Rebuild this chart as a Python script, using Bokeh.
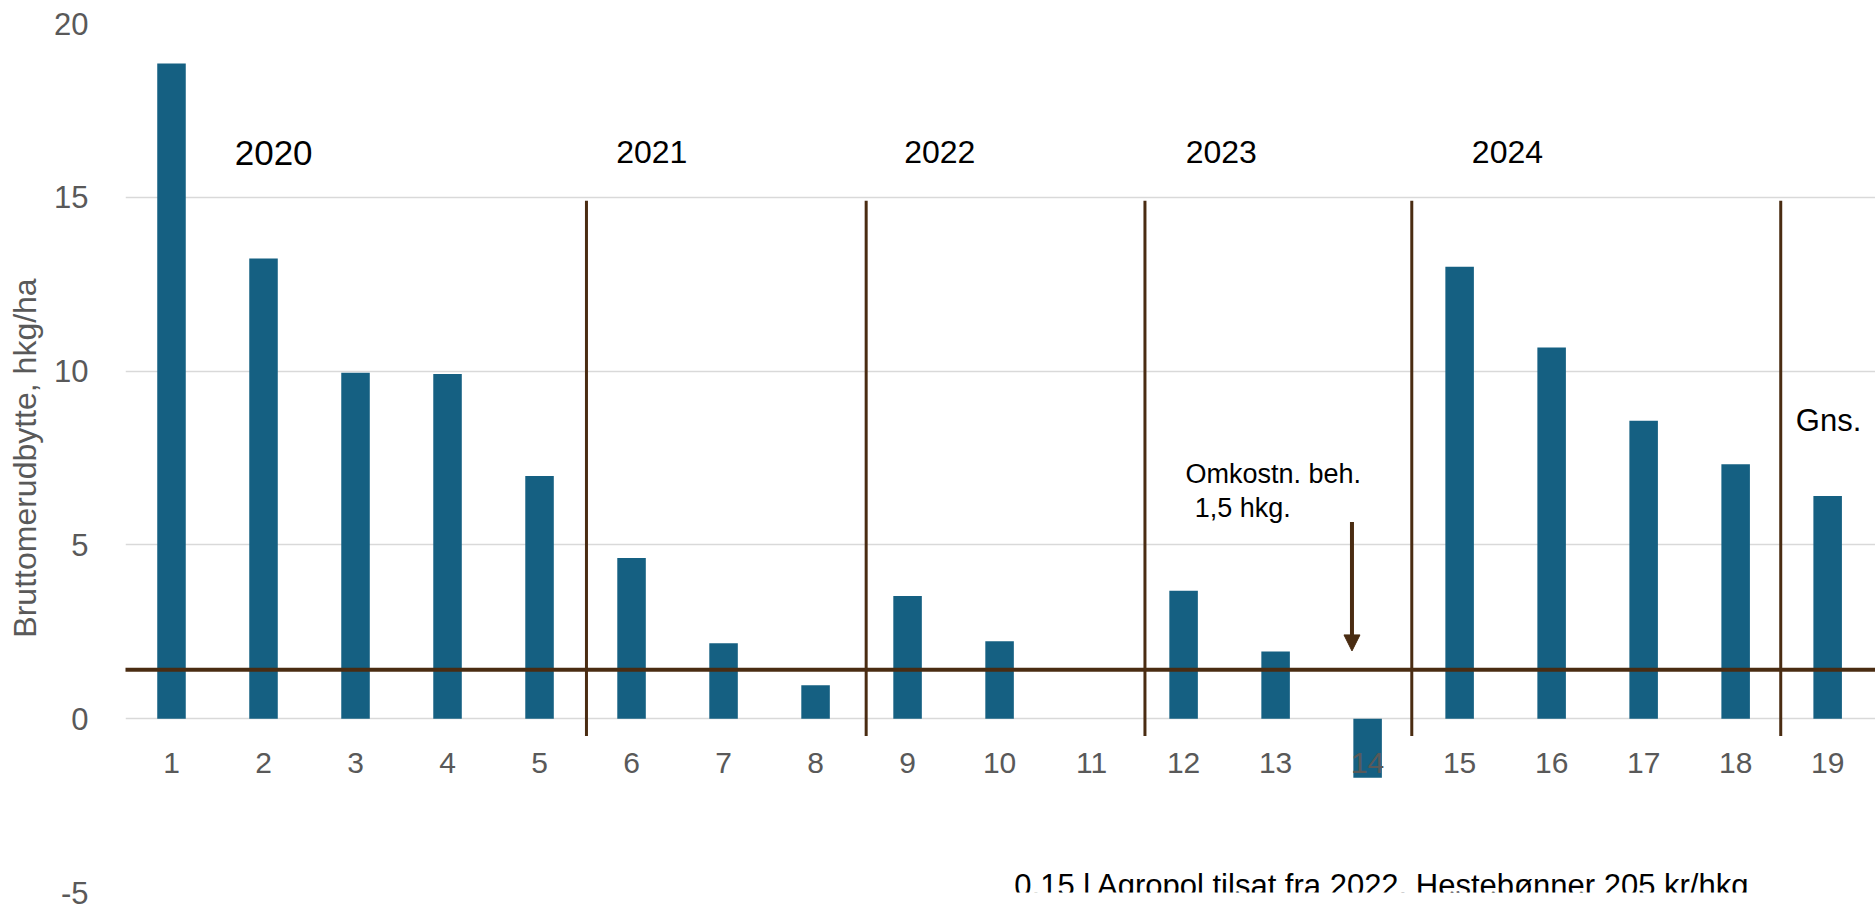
from bokeh.plotting import figure
from bokeh.models import Range1d, FixedTicker, Arrow, NormalHead, Label
from bokeh.core.properties import value
from bokeh.embed import file_html
from bokeh.resources import INLINE

# ---- data ----
categories = ["1", "2", "3", "4", "5", "6", "7", "8", "9", "10",
              "11", "12", "13", "14", "15", "16", "17", "18", "19"]
values = [18.85, 13.24, 9.95, 9.92, 6.98, 4.62, 2.17, 0.96, 3.53, 2.23,
          0.0, 3.68, 1.93, -1.70, 13.0, 10.68, 8.57, 7.32, 6.41]
year_labels = ["2020", "2021", "2022", "2023", "2024"]
year_x = [2.11, 6.22, 9.35, 12.41, 15.52]
separator_x = [5.51, 8.55, 11.58, 14.48, 18.49]
cost_level = 1.41
y_ticks = [-5, 0, 5, 10, 15, 20]
y_tick_labels = ["-5", "0", "5", "10", "15", "20"]

BROWN = "#4a2c12"
BAR = "#156082"
GRAY = "#595959"
FONT = "Liberation Sans"

x_pos = list(range(1, len(categories) + 1))

p = figure(width=1875, height=904, output_backend="svg", toolbar_location=None,
           x_range=Range1d(0.5, 19.52), y_range=Range1d(-5, 20),
           x_axis_location=None,
           min_border_left=125, min_border_right=0,
           min_border_top=23, min_border_bottom=12)
p.outline_line_color = None
p.background_fill_color = "white"
p.border_fill_color = "white"

# y axis
p.yaxis.ticker = FixedTicker(ticks=y_ticks)
p.yaxis.major_label_overrides = dict(zip(y_ticks, y_tick_labels))
p.yaxis.axis_line_color = None
p.yaxis.major_tick_line_color = None
p.yaxis.minor_tick_line_color = None
p.yaxis.major_label_standoff = 31
p.yaxis.major_label_text_font = FONT
p.yaxis.major_label_text_font_size = "31px"
p.yaxis.major_label_text_color = GRAY
p.yaxis.axis_label = "Bruttomerudbytte, hkg/ha"
p.yaxis.axis_label_text_font = FONT
p.yaxis.axis_label_text_font_style = "normal"
p.yaxis.axis_label_text_font_size = "32px"
p.yaxis.axis_label_text_color = GRAY
p.yaxis.axis_label_standoff = 8

for g in p.grid:
    if g.dimension == 0:
        g.visible = False
    else:
        g.ticker = FixedTicker(ticks=y_ticks)
        g.grid_line_color = "#d9d9d9"
        g.grid_line_width = 1.5

# bars
p.vbar(x=x_pos, top=values, bottom=0, width=0.31,
       fill_color=BAR, line_color=None)

# category labels
p.text(x=x_pos, y=[-1.28] * len(x_pos), text=categories,
       text_font=value(FONT), text_font_size=value("30px"),
       text_color=GRAY, text_align="center", text_baseline="middle")

# cost line
p.add_layout(Arrow(end=None, x_start=0.087, y_start=cost_level,
                   x_end=19.52, y_end=cost_level,
                   line_color=BROWN, line_width=4))

# year separators
p.segment(x0=separator_x, y0=[-0.5] * len(separator_x),
          x1=separator_x, y1=[14.9] * len(separator_x),
          line_color=BROWN, line_width=3)

# year labels
p.text(x=year_x[:1], y=[16.28], text=year_labels[:1],
       text_font=value(FONT), text_font_size=value("35px"),
       text_color="black", text_align="center", text_baseline="middle")
p.text(x=year_x[1:], y=[16.3] * 4, text=year_labels[1:],
       text_font=value(FONT), text_font_size=value("32px"),
       text_color="black", text_align="center", text_baseline="middle")

# Gns.
p.text(x=[19.01], y=[8.59], text=["Gns."],
       text_font=value(FONT), text_font_size=value("31px"),
       text_color="black", text_align="center", text_baseline="middle")

# annotation
p.text(x=[12.02, 12.12], y=[7.03, 6.05], text=["Omkostn. beh.", "1,5 hkg."],
       text_font=value(FONT), text_font_size=value("27px"),
       text_color="black", text_align="left", text_baseline="middle")
p.add_layout(Arrow(end=NormalHead(size=16, fill_color=BROWN, line_color=BROWN),
                   x_start=13.83, y_start=5.66, x_end=13.83, y_end=1.95,
                   line_color=BROWN, line_width=4))

# footnote
p.add_layout(Label(x=10.16, y=-4.8, text="0,15 l Agropol tilsat fra 2022. Hestebønner 205 kr/hkg",
                   text_font=FONT, text_font_size="31px", text_color="black",
                   text_align="left", text_baseline="alphabetic"))

open("out.html", "w").write(file_html(p, INLINE))
